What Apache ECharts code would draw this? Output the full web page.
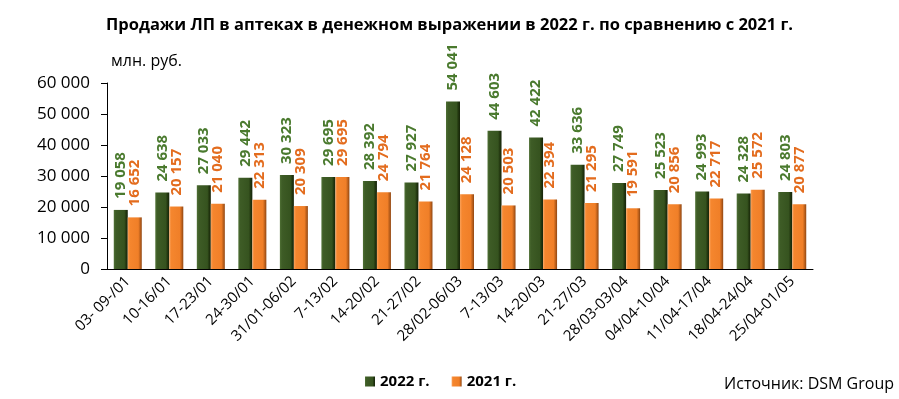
<!DOCTYPE html>
<html><head><meta charset="utf-8">
<script src="https://cdn.jsdelivr.net/npm/echarts@6/dist/echarts.min.js"></script>
<style>html,body{margin:0;padding:0;background:#fff}#c{width:899px;height:399px}</style>
</head><body><div id="c"></div>
<script>
const categories = ["03- 09-/01","10-16/01","17-23/01","24-30/01","31/01-06/02","7-13/02","14-20/02","21-27/02","28/02-06/03","7-13/03","14-20/03","21-27/03","28/03-03/04","04/04-10/04","11/04-17/04","18/04-24/04","25/04-01/05"];
const sales2022 = [19058,24638,27033,29442,30323,29695,28392,27927,54041,44603,42422,33636,27749,25523,24993,24328,24803];
const sales2021 = [16652,20157,21040,22313,20309,29695,24794,21764,24128,20503,22394,21295,19591,20856,22717,25572,20877];
const yTicks = [0,10000,20000,30000,40000,50000,60000];

const fmt = v => String(v).replace(/\B(?=(\d{3})+(?!\d))/g, ' ');
const FONT = '"Open Sans", "Noto Sans", sans-serif';
const greenGrad = new echarts.graphic.LinearGradient(0,0,1,0,[
  {offset:0,color:'#4f7035'},{offset:0.15,color:'#3e5c26'},{offset:0.75,color:'#36531f'},{offset:0.88,color:'#22360f'},{offset:1,color:'#16240a'}]);
const orangeGrad = new echarts.graphic.LinearGradient(0,0,1,0,[
  {offset:0,color:'#f9a15a'},{offset:0.15,color:'#f5862e'},{offset:0.75,color:'#f07f28'},{offset:0.88,color:'#c0621c'},{offset:1,color:'#8f4612'}]);

const chart = echarts.init(document.getElementById('c'));
chart.setOption({
  animation:false,
  textStyle:{fontFamily:FONT},
  title:[
    {text:'Продажи ЛП в аптеках в денежном выражении в 2022 г. по сравнению с 2021 г.',left:'center',top:12,
     textStyle:{fontSize:16.5,fontWeight:'bold',color:'#000',fontFamily:FONT}},
    {text:'млн. руб.',left:106,top:48,textStyle:{fontSize:16,fontWeight:'normal',color:'#000',fontFamily:FONT}},
    {text:'Источник: DSM Group',right:0,top:371,textStyle:{fontSize:16,fontWeight:'normal',color:'#000',fontFamily:FONT}}
  ],
  legend:{top:369,left:360,itemWidth:10,itemHeight:10,itemGap:22,icon:'rect',
    textStyle:{fontSize:15,fontWeight:'bold',color:'#000',fontFamily:FONT},
    data:['2022 г.','2021 г.']},
  grid:{left:107,right:86,top:83,bottom:130},
  xAxis:{type:'category',data:categories,
    axisLine:{lineStyle:{color:'#000',width:1}},
    axisTick:{length:6,lineStyle:{color:'#000'}},
    axisLabel:{rotate:45,fontSize:15,color:'#000',margin:10,interval:0,fontFamily:FONT}},
  yAxis:{type:'value',min:0,max:60000,interval:10000,
    axisLine:{show:true,lineStyle:{color:'#000'}},
    axisTick:{show:true,length:6,lineStyle:{color:'#000'}},
    splitLine:{show:false},
    axisLabel:{fontSize:17,color:'#000',margin:17,formatter:v=>fmt(v),fontFamily:FONT}},
  series:[
    {name:'2022 г.',type:'bar',data:sales2022,barWidth:14,barGap:'0%',
     itemStyle:{color:greenGrad},
     label:{show:true,position:'top',rotate:90,align:'left',verticalAlign:'middle',distance:11,
       fontSize:15,fontWeight:'bold',color:'#4a7a2e',formatter:p=>fmt(p.value),fontFamily:FONT}},
    {name:'2021 г.',type:'bar',data:sales2021,barWidth:14,
     itemStyle:{color:orangeGrad},
     label:{show:true,position:'top',rotate:90,align:'left',verticalAlign:'middle',distance:11,
       fontSize:15,fontWeight:'bold',color:'#e36c1e',formatter:p=>fmt(p.value),fontFamily:FONT}}
  ]
});
</script></body></html>
